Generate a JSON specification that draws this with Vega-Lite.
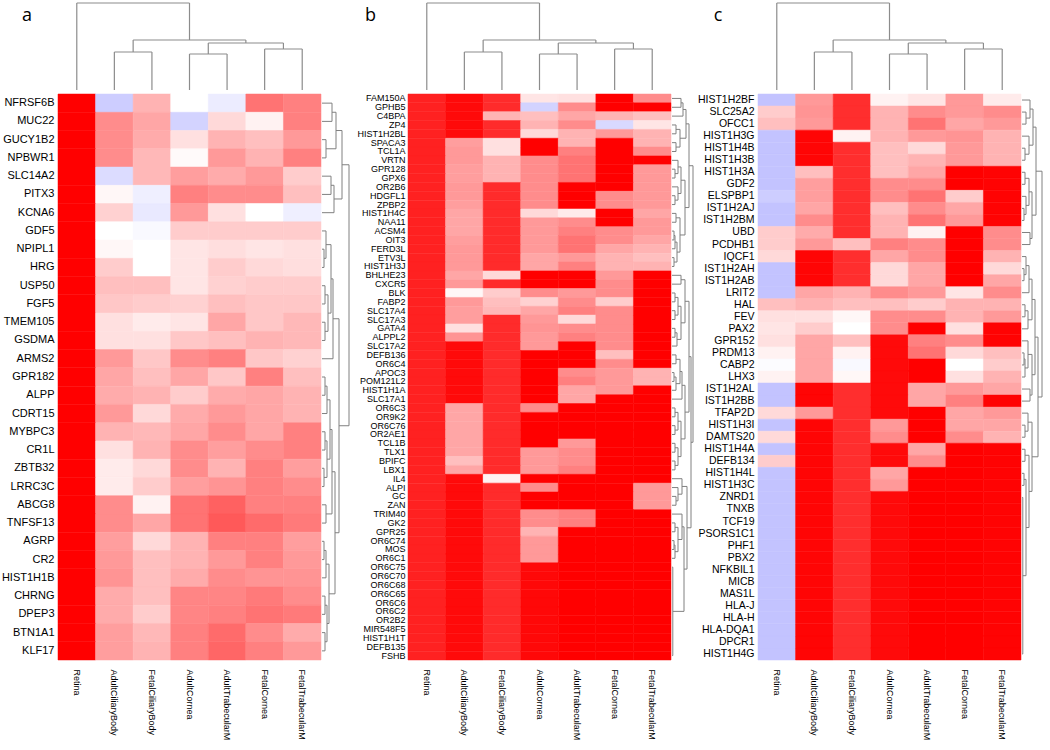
{
"$schema": "https://vega.github.io/schema/vega-lite/v6.json",
"padding": 0,
"background": "white",
"spacing": 0,
"config": {"view": {"stroke": null}, "axis": {"labelFont": "Liberation Sans", "labelColor": "#000000", "titleColor": "#000000"}},
"datasets": {
"dendro": [
{"x":0,"x2":0,"y":0,"y2":87},{"x":3,"x2":3,"y":50,"y2":87},{"x":0,"x2":3,"y":87,"y2":87},
{"x":1.5,"x2":1.5,"y":38,"y2":50},{"x":4.5,"x2":4.5,"y":47,"y2":50},{"x":1.5,"x2":4.5,"y":50,"y2":50},
{"x":1,"x2":1,"y":0,"y2":38},{"x":2,"x2":2,"y":0,"y2":38},{"x":1,"x2":2,"y":38,"y2":38},
{"x":3.5,"x2":3.5,"y":36,"y2":47},{"x":5.5,"x2":5.5,"y":41,"y2":47},{"x":3.5,"x2":5.5,"y":47,"y2":47},
{"x":3,"x2":3,"y":0,"y2":36},{"x":4,"x2":4,"y":0,"y2":36},{"x":3,"x2":4,"y":36,"y2":36},
{"x":5,"x2":5,"y":0,"y2":41},{"x":6,"x2":6,"y":0,"y2":41},{"x":5,"x2":6,"y":41,"y2":41}
],
"ra": [
{"p1":2.5,"h1":0,"p2":3.5,"h2":0,"H":4},{"p1":8.5,"h1":0,"p2":9.5,"h2":0,"H":2},{"p1":7.5,"h1":0,"p2":9.0,"h2":2,"H":4},
{"p1":10.5,"h1":0,"p2":11.5,"h2":0,"H":3},{"p1":12.5,"h1":0,"p2":13.5,"h2":0,"H":3},{"p1":11.0,"h1":3,"p2":13.0,"h2":3,"H":6},
{"p1":15.5,"h1":0,"p2":16.5,"h2":0,"H":3},{"p1":16.0,"h1":3,"p2":17.5,"h2":0,"H":5},{"p1":18.5,"h1":0,"p2":19.5,"h2":0,"H":3},
{"p1":20.5,"h1":0,"p2":21.5,"h2":0,"H":2},{"p1":19.0,"h1":3,"p2":21.0,"h2":2,"H":5},{"p1":22.5,"h1":0,"p2":23.5,"h2":0,"H":4},
{"p1":24.5,"h1":0,"p2":25.5,"h2":0,"H":2},{"p1":25.0,"h1":2,"p2":26.5,"h2":0,"H":4},{"p1":27.5,"h1":0,"p2":28.5,"h2":0,"H":3},
{"p1":29.5,"h1":0,"p2":30.5,"h2":0,"H":3},{"p1":28.0,"h1":3,"p2":30.0,"h2":3,"H":5},{"p1":25.75,"h1":4,"p2":29.0,"h2":5,"H":7},
{"p1":0.5,"h1":0,"p2":1.5,"h2":0,"H":10},{"p1":1.0,"h1":10,"p2":3.0,"h2":4,"H":14},{"p1":4.5,"h1":0,"p2":5.5,"h2":0,"H":9},
{"p1":5.0,"h1":9,"p2":6.5,"h2":0,"H":12},{"p1":8.25,"h1":4,"p2":12.0,"h2":6,"H":9},{"p1":10.125,"h1":9,"p2":14.5,"h2":0,"H":11},
{"p1":16.75,"h1":5,"p2":20.0,"h2":5,"H":8},{"p1":18.375,"h1":8,"p2":23.0,"h2":4,"H":10},{"p1":20.69,"h1":10,"p2":27.375,"h2":7,"H":13},
{"p1":12.31,"h1":11,"p2":24.03,"h2":13,"H":17},{"p1":2.0,"h1":14,"p2":5.75,"h2":12,"H":20},{"p1":3.875,"h1":20,"p2":18.17,"h2":17,"H":27}
],
"rb": [
{"p1":3.5,"h1":0,"p2":4.5,"h2":0,"H":4},{"p1":5.5,"h1":0,"p2":6.5,"h2":0,"H":4},{"p1":8.5,"h1":0,"p2":9.5,"h2":0,"H":3},
{"p1":7.5,"h1":0,"p2":9.0,"h2":3,"H":6},{"p1":11.5,"h1":0,"p2":12.5,"h2":0,"H":3},{"p1":10.5,"h1":0,"p2":12.0,"h2":3,"H":6},
{"p1":13.5,"h1":0,"p2":14.5,"h2":0,"H":4},{"p1":15.5,"h1":0,"p2":16.5,"h2":0,"H":2},{"p1":16.0,"h1":2,"p2":17.5,"h2":0,"H":3},
{"p1":18.5,"h1":0,"p2":19.5,"h2":0,"H":2},{"p1":16.75,"h1":3,"p2":19.0,"h2":2,"H":5},{"p1":22.5,"h1":0,"p2":23.5,"h2":0,"H":3},
{"p1":24.5,"h1":0,"p2":25.5,"h2":0,"H":3},{"p1":23.0,"h1":3,"p2":25.0,"h2":3,"H":6},{"p1":26.5,"h1":0,"p2":27.5,"h2":0,"H":3},
{"p1":27.0,"h1":3,"p2":28.5,"h2":0,"H":5},{"p1":29.5,"h1":0,"p2":30.5,"h2":0,"H":4},{"p1":31.5,"h1":0,"p2":32.5,"h2":0,"H":2},
{"p1":32.0,"h1":2,"p2":33.5,"h2":0,"H":4},{"p1":35.5,"h1":0,"p2":36.5,"h2":0,"H":3},{"p1":37.5,"h1":0,"p2":38.5,"h2":0,"H":3},
{"p1":36.0,"h1":3,"p2":38.0,"h2":3,"H":6},{"p1":39.5,"h1":0,"p2":40.5,"h2":0,"H":3},{"p1":41.5,"h1":0,"p2":42.5,"h2":0,"H":3},
{"p1":40.0,"h1":3,"p2":42.0,"h2":3,"H":6},{"p1":45.5,"h1":0,"p2":46.5,"h2":0,"H":4},{"p1":44.5,"h1":0,"p2":46.0,"h2":4,"H":6},
{"p1":48.5,"h1":0,"p2":49.5,"h2":0,"H":3},{"p1":50.5,"h1":0,"p2":51.5,"h2":0,"H":2},{"p1":51.0,"h1":2,"p2":52.5,"h2":0,"H":3},
{"p1":49.0,"h1":3,"p2":51.75,"h2":3,"H":6},{"p1":53.5,"h1":0,"p2":63.5,"h2":0,"H":0.8},{"p1":0.5,"h1":0,"p2":1.5,"h2":0,"H":9},
{"p1":1.0,"h1":9,"p2":2.5,"h2":0,"H":11},{"p1":4.0,"h1":4,"p2":6.0,"h2":4,"H":8},{"p1":8.25,"h1":6,"p2":11.25,"h2":6,"H":9},
{"p1":14.0,"h1":4,"p2":17.875,"h2":5,"H":8},{"p1":20.5,"h1":0,"p2":21.5,"h2":0,"H":9},{"p1":24.0,"h1":6,"p2":27.75,"h2":5,"H":9},
{"p1":30.0,"h1":4,"p2":32.75,"h2":4,"H":8},{"p1":31.375,"h1":8,"p2":34.5,"h2":0,"H":10},{"p1":37.0,"h1":6,"p2":41.0,"h2":6,"H":9},
{"p1":43.5,"h1":0,"p2":45.25,"h2":6,"H":10},{"p1":47.5,"h1":0,"p2":50.375,"h2":6,"H":10},{"p1":48.94,"h1":10,"p2":58.5,"h2":0.8,"H":12},
{"p1":1.75,"h1":11,"p2":5.0,"h2":8,"H":14},{"p1":9.75,"h1":9,"p2":15.94,"h2":8,"H":13},{"p1":21.0,"h1":9,"p2":25.875,"h2":9,"H":13},
{"p1":32.94,"h1":10,"p2":39.0,"h2":9,"H":13},{"p1":44.375,"h1":10,"p2":53.72,"h2":12,"H":15},{"p1":3.375,"h1":14,"p2":12.84,"h2":13,"H":17},
{"p1":23.44,"h1":13,"p2":35.97,"h2":13,"H":17},{"p1":29.7,"h1":17,"p2":49.05,"h2":15,"H":19},{"p1":8.11,"h1":17,"p2":39.38,"h2":19,"H":21}
],
"rc": [
{"p1":1.5,"h1":0,"p2":2.5,"h2":0,"H":4},{"p1":4.5,"h1":0,"p2":5.5,"h2":0,"H":3},{"p1":6.5,"h1":0,"p2":7.5,"h2":0,"H":3},
{"p1":9.5,"h1":0,"p2":10.5,"h2":0,"H":2},{"p1":8.5,"h1":0,"p2":10.0,"h2":2,"H":4},{"p1":14.5,"h1":0,"p2":15.5,"h2":0,"H":2},
{"p1":13.5,"h1":0,"p2":15.0,"h2":2,"H":4},{"p1":17.5,"h1":0,"p2":18.5,"h2":0,"H":3},{"p1":21.5,"h1":0,"p2":22.5,"h2":0,"H":2},
{"p1":22.0,"h1":2,"p2":23.5,"h2":0,"H":3},{"p1":27.5,"h1":0,"p2":28.5,"h2":0,"H":3},{"p1":29.5,"h1":0,"p2":30.5,"h2":0,"H":3},
{"p1":31.5,"h1":0,"p2":32.5,"h2":0,"H":2},{"p1":33.5,"h1":0,"p2":46.5,"h2":0,"H":0.8},{"p1":32.0,"h1":2,"p2":40.0,"h2":0.8,"H":4},
{"p1":0.5,"h1":0,"p2":2.0,"h2":4,"H":8},{"p1":3.5,"h1":0,"p2":5.0,"h2":3,"H":7},{"p1":7.0,"h1":3,"p2":9.25,"h2":4,"H":7},
{"p1":11.5,"h1":0,"p2":12.5,"h2":0,"H":8},{"p1":14.25,"h1":4,"p2":16.5,"h2":0,"H":7},{"p1":18.0,"h1":3,"p2":19.5,"h2":0,"H":6},
{"p1":20.5,"h1":0,"p2":22.75,"h2":3,"H":6},{"p1":24.5,"h1":0,"p2":25.5,"h2":0,"H":8},{"p1":26.5,"h1":0,"p2":28.0,"h2":3,"H":6},
{"p1":30.0,"h1":3,"p2":36.0,"h2":4,"H":7},{"p1":1.25,"h1":8,"p2":4.25,"h2":7,"H":11},{"p1":8.125,"h1":7,"p2":12.0,"h2":8,"H":10},
{"p1":15.375,"h1":7,"p2":18.75,"h2":6,"H":10},{"p1":21.625,"h1":6,"p2":25.0,"h2":8,"H":10},{"p1":27.25,"h1":6,"p2":33.0,"h2":7,"H":10},
{"p1":2.75,"h1":11,"p2":10.06,"h2":10,"H":14},{"p1":17.06,"h1":10,"p2":23.31,"h2":10,"H":13},{"p1":20.19,"h1":13,"p2":30.125,"h2":10,"H":16},
{"p1":6.41,"h1":14,"p2":25.16,"h2":16,"H":20}
],
"a": [
{"g":"NFRSF6B","Retina":1,"AdultCiliaryBody":-0.8,"FetalCiliaryBody":0.3,"AdultCornea":0.0,"AdultTrabecularM":-0.3,"FetalCornea":0.55,"FetalTrabecularM":0.5},
{"g":"MUC22","Retina":1,"AdultCiliaryBody":0.45,"FetalCiliaryBody":0.35,"AdultCornea":-0.7,"AdultTrabecularM":0.15,"FetalCornea":0.05,"FetalTrabecularM":0.5},
{"g":"GUCY1B2","Retina":1,"AdultCiliaryBody":0.45,"FetalCiliaryBody":0.33,"AdultCornea":0.12,"AdultTrabecularM":0.3,"FetalCornea":0.25,"FetalTrabecularM":0.4},
{"g":"NPBWR1","Retina":1,"AdultCiliaryBody":0.45,"FetalCiliaryBody":0.28,"AdultCornea":0.02,"AdultTrabecularM":0.4,"FetalCornea":0.3,"FetalTrabecularM":0.5},
{"g":"SLC14A2","Retina":1,"AdultCiliaryBody":-0.55,"FetalCiliaryBody":0.28,"AdultCornea":0.38,"AdultTrabecularM":0.33,"FetalCornea":0.4,"FetalTrabecularM":0.2},
{"g":"PITX3","Retina":1,"AdultCiliaryBody":0.03,"FetalCiliaryBody":-0.25,"AdultCornea":0.5,"AdultTrabecularM":0.45,"FetalCornea":0.45,"FetalTrabecularM":0.25},
{"g":"KCNA6","Retina":1,"AdultCiliaryBody":0.18,"FetalCiliaryBody":-0.35,"AdultCornea":0.4,"AdultTrabecularM":0.12,"FetalCornea":0.0,"FetalTrabecularM":-0.25},
{"g":"GDF5","Retina":1,"AdultCiliaryBody":0.0,"FetalCiliaryBody":-0.1,"AdultCornea":0.2,"AdultTrabecularM":0.2,"FetalCornea":0.2,"FetalTrabecularM":0.2},
{"g":"NPIPL1","Retina":1,"AdultCiliaryBody":0.03,"FetalCiliaryBody":0.0,"AdultCornea":0.1,"AdultTrabecularM":0.13,"FetalCornea":0.1,"FetalTrabecularM":0.12},
{"g":"HRG","Retina":1,"AdultCiliaryBody":0.2,"FetalCiliaryBody":0.0,"AdultCornea":0.1,"AdultTrabecularM":0.2,"FetalCornea":0.15,"FetalTrabecularM":0.13},
{"g":"USP50","Retina":1,"AdultCiliaryBody":0.25,"FetalCiliaryBody":0.25,"AdultCornea":0.1,"AdultTrabecularM":0.18,"FetalCornea":0.2,"FetalTrabecularM":0.2},
{"g":"FGF5","Retina":1,"AdultCiliaryBody":0.22,"FetalCiliaryBody":0.2,"AdultCornea":0.18,"AdultTrabecularM":0.25,"FetalCornea":0.22,"FetalTrabecularM":0.22},
{"g":"TMEM105","Retina":1,"AdultCiliaryBody":0.12,"FetalCiliaryBody":0.08,"AdultCornea":0.1,"AdultTrabecularM":0.35,"FetalCornea":0.22,"FetalTrabecularM":0.28},
{"g":"GSDMA","Retina":1,"AdultCiliaryBody":0.12,"FetalCiliaryBody":0.12,"AdultCornea":0.22,"AdultTrabecularM":0.25,"FetalCornea":0.3,"FetalTrabecularM":0.28},
{"g":"ARMS2","Retina":1,"AdultCiliaryBody":0.4,"FetalCiliaryBody":0.22,"AdultCornea":0.45,"AdultTrabecularM":0.5,"FetalCornea":0.22,"FetalTrabecularM":0.18},
{"g":"GPR182","Retina":1,"AdultCiliaryBody":0.35,"FetalCiliaryBody":0.25,"AdultCornea":0.35,"AdultTrabecularM":0.22,"FetalCornea":0.5,"FetalTrabecularM":0.25},
{"g":"ALPP","Retina":1,"AdultCiliaryBody":0.33,"FetalCiliaryBody":0.3,"AdultCornea":0.2,"AdultTrabecularM":0.33,"FetalCornea":0.35,"FetalTrabecularM":0.3},
{"g":"CDRT15","Retina":1,"AdultCiliaryBody":0.4,"FetalCiliaryBody":0.15,"AdultCornea":0.33,"AdultTrabecularM":0.4,"FetalCornea":0.35,"FetalTrabecularM":0.3},
{"g":"MYBPC3","Retina":1,"AdultCiliaryBody":0.3,"FetalCiliaryBody":0.28,"AdultCornea":0.35,"AdultTrabecularM":0.45,"FetalCornea":0.35,"FetalTrabecularM":0.5},
{"g":"CR1L","Retina":1,"AdultCiliaryBody":0.12,"FetalCiliaryBody":0.3,"AdultCornea":0.45,"AdultTrabecularM":0.38,"FetalCornea":0.45,"FetalTrabecularM":0.5},
{"g":"ZBTB32","Retina":1,"AdultCiliaryBody":0.08,"FetalCiliaryBody":0.15,"AdultCornea":0.45,"AdultTrabecularM":0.3,"FetalCornea":0.5,"FetalTrabecularM":0.38},
{"g":"LRRC3C","Retina":1,"AdultCiliaryBody":0.08,"FetalCiliaryBody":0.2,"AdultCornea":0.38,"AdultTrabecularM":0.42,"FetalCornea":0.5,"FetalTrabecularM":0.45},
{"g":"ABCG8","Retina":1,"AdultCiliaryBody":0.45,"FetalCiliaryBody":0.05,"AdultCornea":0.55,"AdultTrabecularM":0.62,"FetalCornea":0.5,"FetalTrabecularM":0.5},
{"g":"TNFSF13","Retina":1,"AdultCiliaryBody":0.45,"FetalCiliaryBody":0.35,"AdultCornea":0.55,"AdultTrabecularM":0.65,"FetalCornea":0.58,"FetalTrabecularM":0.52},
{"g":"AGRP","Retina":1,"AdultCiliaryBody":0.38,"FetalCiliaryBody":0.15,"AdultCornea":0.3,"AdultTrabecularM":0.5,"FetalCornea":0.5,"FetalTrabecularM":0.38},
{"g":"CR2","Retina":1,"AdultCiliaryBody":0.4,"FetalCiliaryBody":0.25,"AdultCornea":0.3,"AdultTrabecularM":0.4,"FetalCornea":0.5,"FetalTrabecularM":0.4},
{"g":"HIST1H1B","Retina":1,"AdultCiliaryBody":0.42,"FetalCiliaryBody":0.25,"AdultCornea":0.33,"AdultTrabecularM":0.45,"FetalCornea":0.42,"FetalTrabecularM":0.42},
{"g":"CHRNG","Retina":1,"AdultCiliaryBody":0.33,"FetalCiliaryBody":0.25,"AdultCornea":0.48,"AdultTrabecularM":0.48,"FetalCornea":0.52,"FetalTrabecularM":0.45},
{"g":"DPEP3","Retina":1,"AdultCiliaryBody":0.33,"FetalCiliaryBody":0.2,"AdultCornea":0.48,"AdultTrabecularM":0.5,"FetalCornea":0.55,"FetalTrabecularM":0.52},
{"g":"BTN1A1","Retina":1,"AdultCiliaryBody":0.38,"FetalCiliaryBody":0.28,"AdultCornea":0.5,"AdultTrabecularM":0.58,"FetalCornea":0.45,"FetalTrabecularM":0.33},
{"g":"KLF17","Retina":1,"AdultCiliaryBody":0.38,"FetalCiliaryBody":0.3,"AdultCornea":0.5,"AdultTrabecularM":0.6,"FetalCornea":0.5,"FetalTrabecularM":0.4}
],
"b": [
{"g":"FAM150A","Retina":0.87,"AdultCiliaryBody":0.96,"FetalCiliaryBody":0.83,"AdultCornea":0.1,"AdultTrabecularM":0.12,"FetalCornea":1,"FetalTrabecularM":0.45},
{"g":"GPHB5","Retina":0.87,"AdultCiliaryBody":0.96,"FetalCiliaryBody":0.83,"AdultCornea":-0.7,"AdultTrabecularM":0.45,"FetalCornea":1,"FetalTrabecularM":1},
{"g":"C4BPA","Retina":0.87,"AdultCiliaryBody":0.96,"FetalCiliaryBody":0.3,"AdultCornea":0.25,"AdultTrabecularM":0.35,"FetalCornea":0.3,"FetalTrabecularM":0.25},
{"g":"ZP4","Retina":0.87,"AdultCiliaryBody":0.96,"FetalCiliaryBody":0.83,"AdultCornea":0.3,"AdultTrabecularM":0.45,"FetalCornea":-0.6,"FetalTrabecularM":0.1},
{"g":"HIST1H2BL","Retina":0.87,"AdultCiliaryBody":0.96,"FetalCiliaryBody":0.83,"AdultCornea":0.15,"AdultTrabecularM":0.3,"FetalCornea":0.4,"FetalTrabecularM":0.3},
{"g":"SPACA3","Retina":0.87,"AdultCiliaryBody":0.38,"FetalCiliaryBody":0.12,"AdultCornea":1,"AdultTrabecularM":0.3,"FetalCornea":1,"FetalTrabecularM":0.3},
{"g":"TCL1A","Retina":0.87,"AdultCiliaryBody":0.4,"FetalCiliaryBody":0.12,"AdultCornea":1,"AdultTrabecularM":0.5,"FetalCornea":1,"FetalTrabecularM":0.45},
{"g":"VRTN","Retina":0.87,"AdultCiliaryBody":0.4,"FetalCiliaryBody":0.3,"AdultCornea":0.45,"AdultTrabecularM":0.55,"FetalCornea":1,"FetalTrabecularM":1},
{"g":"GPR128","Retina":0.87,"AdultCiliaryBody":0.38,"FetalCiliaryBody":0.3,"AdultCornea":0.45,"AdultTrabecularM":0.55,"FetalCornea":1,"FetalTrabecularM":0.4},
{"g":"GPX6","Retina":0.87,"AdultCiliaryBody":0.38,"FetalCiliaryBody":0.3,"AdultCornea":0.45,"AdultTrabecularM":0.55,"FetalCornea":1,"FetalTrabecularM":0.4},
{"g":"OR2B6","Retina":0.87,"AdultCiliaryBody":0.4,"FetalCiliaryBody":0.83,"AdultCornea":0.45,"AdultTrabecularM":1,"FetalCornea":1,"FetalTrabecularM":0.4},
{"g":"HDGFL1","Retina":0.87,"AdultCiliaryBody":0.4,"FetalCiliaryBody":0.83,"AdultCornea":0.45,"AdultTrabecularM":1,"FetalCornea":0.45,"FetalTrabecularM":0.4},
{"g":"ZPBP2","Retina":0.87,"AdultCiliaryBody":0.38,"FetalCiliaryBody":0.83,"AdultCornea":0.45,"AdultTrabecularM":1,"FetalCornea":0.45,"FetalTrabecularM":0.4},
{"g":"HIST1H4C","Retina":0.87,"AdultCiliaryBody":0.35,"FetalCiliaryBody":0.83,"AdultCornea":0.15,"AdultTrabecularM":0.08,"FetalCornea":1,"FetalTrabecularM":0.35},
{"g":"NAA11","Retina":0.87,"AdultCiliaryBody":0.35,"FetalCiliaryBody":0.83,"AdultCornea":0.4,"AdultTrabecularM":0.45,"FetalCornea":1,"FetalTrabecularM":0.4},
{"g":"ACSM4","Retina":0.87,"AdultCiliaryBody":0.35,"FetalCiliaryBody":0.83,"AdultCornea":0.4,"AdultTrabecularM":0.5,"FetalCornea":0.45,"FetalTrabecularM":0.4},
{"g":"OIT3","Retina":0.87,"AdultCiliaryBody":0.38,"FetalCiliaryBody":0.83,"AdultCornea":0.4,"AdultTrabecularM":0.55,"FetalCornea":0.45,"FetalTrabecularM":0.35},
{"g":"FERD3L","Retina":0.87,"AdultCiliaryBody":0.4,"FetalCiliaryBody":0.83,"AdultCornea":0.4,"AdultTrabecularM":0.55,"FetalCornea":0.35,"FetalTrabecularM":0.3},
{"g":"ETV3L","Retina":0.87,"AdultCiliaryBody":0.4,"FetalCiliaryBody":0.83,"AdultCornea":0.35,"AdultTrabecularM":0.4,"FetalCornea":0.3,"FetalTrabecularM":0.25},
{"g":"HIST1H3J","Retina":0.87,"AdultCiliaryBody":0.4,"FetalCiliaryBody":0.83,"AdultCornea":0.35,"AdultTrabecularM":0.5,"FetalCornea":0.3,"FetalTrabecularM":0.3},
{"g":"BHLHE23","Retina":0.87,"AdultCiliaryBody":0.35,"FetalCiliaryBody":0.15,"AdultCornea":1,"AdultTrabecularM":1,"FetalCornea":0.4,"FetalTrabecularM":1},
{"g":"CXCR5","Retina":0.87,"AdultCiliaryBody":0.4,"FetalCiliaryBody":0.83,"AdultCornea":1,"AdultTrabecularM":1,"FetalCornea":0.45,"FetalTrabecularM":1},
{"g":"BLK","Retina":0.87,"AdultCiliaryBody":0.03,"FetalCiliaryBody":0.2,"AdultCornea":0.45,"AdultTrabecularM":0.4,"FetalCornea":0.45,"FetalTrabecularM":1},
{"g":"FABP2","Retina":0.87,"AdultCiliaryBody":0.4,"FetalCiliaryBody":0.25,"AdultCornea":0.18,"AdultTrabecularM":0.45,"FetalCornea":0.2,"FetalTrabecularM":1},
{"g":"SLC17A4","Retina":0.87,"AdultCiliaryBody":0.38,"FetalCiliaryBody":0.28,"AdultCornea":0.35,"AdultTrabecularM":0.5,"FetalCornea":0.45,"FetalTrabecularM":1},
{"g":"SLC17A3","Retina":0.87,"AdultCiliaryBody":0.38,"FetalCiliaryBody":0.83,"AdultCornea":0.4,"AdultTrabecularM":0.15,"FetalCornea":0.45,"FetalTrabecularM":1},
{"g":"GATA4","Retina":0.87,"AdultCiliaryBody":0.12,"FetalCiliaryBody":0.83,"AdultCornea":0.42,"AdultTrabecularM":0.45,"FetalCornea":0.45,"FetalTrabecularM":1},
{"g":"ALPPL2","Retina":0.87,"AdultCiliaryBody":0.42,"FetalCiliaryBody":0.83,"AdultCornea":0.4,"AdultTrabecularM":0.5,"FetalCornea":0.45,"FetalTrabecularM":1},
{"g":"SLC17A2","Retina":0.87,"AdultCiliaryBody":0.96,"FetalCiliaryBody":0.83,"AdultCornea":0.4,"AdultTrabecularM":1,"FetalCornea":0.45,"FetalTrabecularM":1},
{"g":"DEFB136","Retina":0.87,"AdultCiliaryBody":0.96,"FetalCiliaryBody":0.83,"AdultCornea":1,"AdultTrabecularM":1,"FetalCornea":0.25,"FetalTrabecularM":1},
{"g":"OR6C4","Retina":0.87,"AdultCiliaryBody":0.96,"FetalCiliaryBody":0.83,"AdultCornea":1,"AdultTrabecularM":1,"FetalCornea":0.45,"FetalTrabecularM":1},
{"g":"APOC3","Retina":0.87,"AdultCiliaryBody":0.96,"FetalCiliaryBody":0.83,"AdultCornea":1,"AdultTrabecularM":0.45,"FetalCornea":0.4,"FetalTrabecularM":0.3},
{"g":"POM121L2","Retina":0.87,"AdultCiliaryBody":0.96,"FetalCiliaryBody":0.83,"AdultCornea":1,"AdultTrabecularM":0.5,"FetalCornea":0.4,"FetalTrabecularM":0.3},
{"g":"HIST1H1A","Retina":0.87,"AdultCiliaryBody":0.96,"FetalCiliaryBody":0.83,"AdultCornea":1,"AdultTrabecularM":0.35,"FetalCornea":0.4,"FetalTrabecularM":1},
{"g":"SLC17A1","Retina":0.87,"AdultCiliaryBody":0.96,"FetalCiliaryBody":0.83,"AdultCornea":1,"AdultTrabecularM":0.35,"FetalCornea":1,"FetalTrabecularM":1},
{"g":"OR6C3","Retina":0.87,"AdultCiliaryBody":0.35,"FetalCiliaryBody":0.83,"AdultCornea":0.45,"AdultTrabecularM":1,"FetalCornea":1,"FetalTrabecularM":1},
{"g":"OR9K2","Retina":0.87,"AdultCiliaryBody":0.35,"FetalCiliaryBody":0.83,"AdultCornea":1,"AdultTrabecularM":1,"FetalCornea":1,"FetalTrabecularM":1},
{"g":"OR6C76","Retina":0.87,"AdultCiliaryBody":0.35,"FetalCiliaryBody":0.83,"AdultCornea":1,"AdultTrabecularM":1,"FetalCornea":1,"FetalTrabecularM":1},
{"g":"OR2AE1","Retina":0.87,"AdultCiliaryBody":0.35,"FetalCiliaryBody":0.83,"AdultCornea":1,"AdultTrabecularM":1,"FetalCornea":1,"FetalTrabecularM":1},
{"g":"TCL1B","Retina":0.87,"AdultCiliaryBody":0.35,"FetalCiliaryBody":0.83,"AdultCornea":1,"AdultTrabecularM":0.4,"FetalCornea":1,"FetalTrabecularM":1},
{"g":"TLX1","Retina":0.87,"AdultCiliaryBody":0.35,"FetalCiliaryBody":0.83,"AdultCornea":0.4,"AdultTrabecularM":0.45,"FetalCornea":1,"FetalTrabecularM":1},
{"g":"BPIFC","Retina":0.87,"AdultCiliaryBody":0.25,"FetalCiliaryBody":0.83,"AdultCornea":0.4,"AdultTrabecularM":0.45,"FetalCornea":1,"FetalTrabecularM":1},
{"g":"LBX1","Retina":0.87,"AdultCiliaryBody":0.35,"FetalCiliaryBody":0.83,"AdultCornea":0.4,"AdultTrabecularM":0.5,"FetalCornea":1,"FetalTrabecularM":1},
{"g":"IL4","Retina":0.87,"AdultCiliaryBody":0.96,"FetalCiliaryBody":0.05,"AdultCornea":1,"AdultTrabecularM":1,"FetalCornea":1,"FetalTrabecularM":1},
{"g":"ALPI","Retina":0.87,"AdultCiliaryBody":0.96,"FetalCiliaryBody":0.83,"AdultCornea":0.45,"AdultTrabecularM":1,"FetalCornea":1,"FetalTrabecularM":0.4},
{"g":"GC","Retina":0.87,"AdultCiliaryBody":0.96,"FetalCiliaryBody":0.83,"AdultCornea":1,"AdultTrabecularM":1,"FetalCornea":1,"FetalTrabecularM":0.4},
{"g":"ZAN","Retina":0.87,"AdultCiliaryBody":0.96,"FetalCiliaryBody":0.83,"AdultCornea":1,"AdultTrabecularM":1,"FetalCornea":1,"FetalTrabecularM":0.4},
{"g":"TRIM40","Retina":0.87,"AdultCiliaryBody":0.96,"FetalCiliaryBody":0.83,"AdultCornea":0.45,"AdultTrabecularM":0.5,"FetalCornea":1,"FetalTrabecularM":1},
{"g":"GK2","Retina":0.87,"AdultCiliaryBody":0.96,"FetalCiliaryBody":0.83,"AdultCornea":0.45,"AdultTrabecularM":0.5,"FetalCornea":1,"FetalTrabecularM":1},
{"g":"GPR25","Retina":0.87,"AdultCiliaryBody":0.96,"FetalCiliaryBody":0.83,"AdultCornea":0.3,"AdultTrabecularM":1,"FetalCornea":1,"FetalTrabecularM":1},
{"g":"OR6C74","Retina":0.87,"AdultCiliaryBody":0.96,"FetalCiliaryBody":0.83,"AdultCornea":0.4,"AdultTrabecularM":1,"FetalCornea":1,"FetalTrabecularM":1},
{"g":"MOS","Retina":0.87,"AdultCiliaryBody":0.96,"FetalCiliaryBody":0.83,"AdultCornea":0.4,"AdultTrabecularM":1,"FetalCornea":1,"FetalTrabecularM":1},
{"g":"OR6C1","Retina":0.87,"AdultCiliaryBody":0.96,"FetalCiliaryBody":0.83,"AdultCornea":0.4,"AdultTrabecularM":1,"FetalCornea":1,"FetalTrabecularM":1},
{"g":"OR6C75","Retina":0.87,"AdultCiliaryBody":0.96,"FetalCiliaryBody":0.83,"AdultCornea":0.97,"AdultTrabecularM":1,"FetalCornea":1,"FetalTrabecularM":1},
{"g":"OR6C70","Retina":0.87,"AdultCiliaryBody":0.96,"FetalCiliaryBody":0.83,"AdultCornea":0.97,"AdultTrabecularM":1,"FetalCornea":1,"FetalTrabecularM":1},
{"g":"OR6C68","Retina":0.87,"AdultCiliaryBody":0.96,"FetalCiliaryBody":0.83,"AdultCornea":0.97,"AdultTrabecularM":1,"FetalCornea":1,"FetalTrabecularM":1},
{"g":"OR6C65","Retina":0.87,"AdultCiliaryBody":0.96,"FetalCiliaryBody":0.83,"AdultCornea":0.97,"AdultTrabecularM":1,"FetalCornea":1,"FetalTrabecularM":1},
{"g":"OR6C6","Retina":0.87,"AdultCiliaryBody":0.96,"FetalCiliaryBody":0.83,"AdultCornea":0.97,"AdultTrabecularM":1,"FetalCornea":1,"FetalTrabecularM":1},
{"g":"OR6C2","Retina":0.87,"AdultCiliaryBody":0.96,"FetalCiliaryBody":0.83,"AdultCornea":0.97,"AdultTrabecularM":1,"FetalCornea":1,"FetalTrabecularM":1},
{"g":"OR2B2","Retina":0.87,"AdultCiliaryBody":0.96,"FetalCiliaryBody":0.83,"AdultCornea":0.97,"AdultTrabecularM":1,"FetalCornea":1,"FetalTrabecularM":1},
{"g":"MIR548F5","Retina":0.87,"AdultCiliaryBody":0.96,"FetalCiliaryBody":0.83,"AdultCornea":0.97,"AdultTrabecularM":1,"FetalCornea":1,"FetalTrabecularM":1},
{"g":"HIST1H1T","Retina":0.87,"AdultCiliaryBody":0.96,"FetalCiliaryBody":0.83,"AdultCornea":0.97,"AdultTrabecularM":1,"FetalCornea":1,"FetalTrabecularM":1},
{"g":"DEFB135","Retina":0.87,"AdultCiliaryBody":0.96,"FetalCiliaryBody":0.83,"AdultCornea":0.97,"AdultTrabecularM":1,"FetalCornea":1,"FetalTrabecularM":1},
{"g":"FSHB","Retina":0.87,"AdultCiliaryBody":0.96,"FetalCiliaryBody":0.83,"AdultCornea":0.97,"AdultTrabecularM":1,"FetalCornea":1,"FetalTrabecularM":1}
],
"c": [
{"g":"HIST1H2BF","Retina":-0.95,"AdultCiliaryBody":0.4,"FetalCiliaryBody":0.82,"AdultCornea":0.05,"AdultTrabecularM":0.1,"FetalCornea":0.4,"FetalTrabecularM":0.08},
{"g":"SLC25A2","Retina":0.2,"AdultCiliaryBody":0.42,"FetalCiliaryBody":0.82,"AdultCornea":0.3,"AdultTrabecularM":0.45,"FetalCornea":0.4,"FetalTrabecularM":0.45},
{"g":"OFCC1","Retina":0.25,"AdultCiliaryBody":0.4,"FetalCiliaryBody":0.82,"AdultCornea":0.3,"AdultTrabecularM":0.55,"FetalCornea":0.35,"FetalTrabecularM":0.4},
{"g":"HIST1H3G","Retina":-0.95,"AdultCiliaryBody":0.98,"FetalCiliaryBody":0.05,"AdultCornea":0.3,"AdultTrabecularM":0.4,"FetalCornea":0.42,"FetalTrabecularM":0.3},
{"g":"HIST1H4B","Retina":-0.95,"AdultCiliaryBody":0.98,"FetalCiliaryBody":0.82,"AdultCornea":0.25,"AdultTrabecularM":0.15,"FetalCornea":0.4,"FetalTrabecularM":0.3},
{"g":"HIST1H3B","Retina":-0.95,"AdultCiliaryBody":0.98,"FetalCiliaryBody":0.82,"AdultCornea":0.25,"AdultTrabecularM":0.3,"FetalCornea":0.4,"FetalTrabecularM":0.3},
{"g":"HIST1H3A","Retina":-0.95,"AdultCiliaryBody":0.25,"FetalCiliaryBody":0.82,"AdultCornea":0.25,"AdultTrabecularM":0.35,"FetalCornea":1,"FetalTrabecularM":0.99},
{"g":"GDF2","Retina":-0.95,"AdultCiliaryBody":0.38,"FetalCiliaryBody":0.82,"AdultCornea":0.45,"AdultTrabecularM":0.45,"FetalCornea":1,"FetalTrabecularM":0.99},
{"g":"ELSPBP1","Retina":-0.8,"AdultCiliaryBody":0.38,"FetalCiliaryBody":0.82,"AdultCornea":0.45,"AdultTrabecularM":0.55,"FetalCornea":0.2,"FetalTrabecularM":0.99},
{"g":"IST1H2AJ","Retina":-0.95,"AdultCiliaryBody":0.35,"FetalCiliaryBody":0.82,"AdultCornea":0.25,"AdultTrabecularM":0.45,"FetalCornea":0.35,"FetalTrabecularM":0.99},
{"g":"IST1H2BM","Retina":-0.95,"AdultCiliaryBody":0.45,"FetalCiliaryBody":0.82,"AdultCornea":0.3,"AdultTrabecularM":0.55,"FetalCornea":0.4,"FetalTrabecularM":0.99},
{"g":"UBD","Retina":0.2,"AdultCiliaryBody":0.33,"FetalCiliaryBody":0.82,"AdultCornea":0.3,"AdultTrabecularM":0.05,"FetalCornea":1,"FetalTrabecularM":0.45},
{"g":"PCDHB1","Retina":0.2,"AdultCiliaryBody":0.4,"FetalCiliaryBody":0.25,"AdultCornea":0.5,"AdultTrabecularM":0.45,"FetalCornea":1,"FetalTrabecularM":0.45},
{"g":"IQCF1","Retina":0.15,"AdultCiliaryBody":0.98,"FetalCiliaryBody":0.82,"AdultCornea":0.35,"AdultTrabecularM":0.45,"FetalCornea":1,"FetalTrabecularM":0.3},
{"g":"IST1H2AH","Retina":-0.95,"AdultCiliaryBody":0.98,"FetalCiliaryBody":0.82,"AdultCornea":0.15,"AdultTrabecularM":0.35,"FetalCornea":1,"FetalTrabecularM":0.15},
{"g":"IST1H2AB","Retina":-0.95,"AdultCiliaryBody":0.98,"FetalCiliaryBody":0.82,"AdultCornea":0.15,"AdultTrabecularM":0.35,"FetalCornea":1,"FetalTrabecularM":0.35},
{"g":"LRIT2","Retina":-0.95,"AdultCiliaryBody":0.35,"FetalCiliaryBody":0.3,"AdultCornea":0.45,"AdultTrabecularM":0.4,"FetalCornea":0.1,"FetalTrabecularM":0.45},
{"g":"HAL","Retina":0.25,"AdultCiliaryBody":0.3,"FetalCiliaryBody":0.25,"AdultCornea":0.25,"AdultTrabecularM":0.2,"FetalCornea":0.3,"FetalTrabecularM":0.3},
{"g":"FEV","Retina":0.12,"AdultCiliaryBody":0.12,"FetalCiliaryBody":0.03,"AdultCornea":0.45,"AdultTrabecularM":0.45,"FetalCornea":0.3,"FetalTrabecularM":0.4},
{"g":"PAX2","Retina":0.1,"AdultCiliaryBody":0.2,"FetalCiliaryBody":0.0,"AdultCornea":0.45,"AdultTrabecularM":1,"FetalCornea":0.12,"FetalTrabecularM":0.99},
{"g":"GPR152","Retina":0.12,"AdultCiliaryBody":0.35,"FetalCiliaryBody":0.25,"AdultCornea":0.96,"AdultTrabecularM":0.5,"FetalCornea":0.45,"FetalTrabecularM":0.99},
{"g":"PRDM13","Retina":0.05,"AdultCiliaryBody":0.35,"FetalCiliaryBody":0.05,"AdultCornea":0.96,"AdultTrabecularM":0.55,"FetalCornea":0.15,"FetalTrabecularM":0.25},
{"g":"CABP2","Retina":-0.05,"AdultCiliaryBody":0.35,"FetalCiliaryBody":-0.1,"AdultCornea":0.96,"AdultTrabecularM":1,"FetalCornea":0.0,"FetalTrabecularM":0.2},
{"g":"LHX3","Retina":0.05,"AdultCiliaryBody":0.35,"FetalCiliaryBody":0.03,"AdultCornea":0.96,"AdultTrabecularM":1,"FetalCornea":0.12,"FetalTrabecularM":0.3},
{"g":"IST1H2AL","Retina":-0.95,"AdultCiliaryBody":0.98,"FetalCiliaryBody":0.82,"AdultCornea":0.96,"AdultTrabecularM":0.35,"FetalCornea":0.4,"FetalTrabecularM":0.35},
{"g":"IST1H2BB","Retina":-0.95,"AdultCiliaryBody":0.98,"FetalCiliaryBody":0.82,"AdultCornea":0.96,"AdultTrabecularM":0.35,"FetalCornea":0.5,"FetalTrabecularM":0.99},
{"g":"TFAP2D","Retina":0.15,"AdultCiliaryBody":0.4,"FetalCiliaryBody":0.82,"AdultCornea":0.96,"AdultTrabecularM":1,"FetalCornea":0.35,"FetalTrabecularM":0.4},
{"g":"HIST1H3I","Retina":-0.95,"AdultCiliaryBody":0.98,"FetalCiliaryBody":0.82,"AdultCornea":0.4,"AdultTrabecularM":1,"FetalCornea":0.35,"FetalTrabecularM":0.35},
{"g":"DAMTS20","Retina":0.15,"AdultCiliaryBody":0.98,"FetalCiliaryBody":0.82,"AdultCornea":0.45,"AdultTrabecularM":1,"FetalCornea":0.45,"FetalTrabecularM":0.3},
{"g":"HIST1H4A","Retina":-0.95,"AdultCiliaryBody":0.98,"FetalCiliaryBody":0.82,"AdultCornea":0.96,"AdultTrabecularM":0.35,"FetalCornea":1,"FetalTrabecularM":0.99},
{"g":"DEFB134","Retina":0.2,"AdultCiliaryBody":0.98,"FetalCiliaryBody":0.82,"AdultCornea":0.96,"AdultTrabecularM":0.45,"FetalCornea":1,"FetalTrabecularM":0.99},
{"g":"HIST1H4L","Retina":-0.95,"AdultCiliaryBody":0.98,"FetalCiliaryBody":0.82,"AdultCornea":0.35,"AdultTrabecularM":1,"FetalCornea":1,"FetalTrabecularM":0.99},
{"g":"HIST1H3C","Retina":-0.95,"AdultCiliaryBody":0.98,"FetalCiliaryBody":0.82,"AdultCornea":0.4,"AdultTrabecularM":1,"FetalCornea":1,"FetalTrabecularM":0.99},
{"g":"ZNRD1","Retina":-0.95,"AdultCiliaryBody":0.98,"FetalCiliaryBody":0.82,"AdultCornea":0.96,"AdultTrabecularM":1,"FetalCornea":1,"FetalTrabecularM":0.99},
{"g":"TNXB","Retina":-0.95,"AdultCiliaryBody":0.98,"FetalCiliaryBody":0.82,"AdultCornea":0.96,"AdultTrabecularM":1,"FetalCornea":1,"FetalTrabecularM":0.99},
{"g":"TCF19","Retina":-0.95,"AdultCiliaryBody":0.98,"FetalCiliaryBody":0.82,"AdultCornea":0.96,"AdultTrabecularM":1,"FetalCornea":1,"FetalTrabecularM":0.99},
{"g":"PSORS1C1","Retina":-0.95,"AdultCiliaryBody":0.98,"FetalCiliaryBody":0.82,"AdultCornea":0.96,"AdultTrabecularM":1,"FetalCornea":1,"FetalTrabecularM":0.99},
{"g":"PHF1","Retina":-0.95,"AdultCiliaryBody":0.98,"FetalCiliaryBody":0.82,"AdultCornea":0.96,"AdultTrabecularM":1,"FetalCornea":1,"FetalTrabecularM":0.99},
{"g":"PBX2","Retina":-0.95,"AdultCiliaryBody":0.98,"FetalCiliaryBody":0.82,"AdultCornea":0.96,"AdultTrabecularM":1,"FetalCornea":1,"FetalTrabecularM":0.99},
{"g":"NFKBIL1","Retina":-0.95,"AdultCiliaryBody":0.98,"FetalCiliaryBody":0.82,"AdultCornea":0.96,"AdultTrabecularM":1,"FetalCornea":1,"FetalTrabecularM":0.99},
{"g":"MICB","Retina":-0.95,"AdultCiliaryBody":0.98,"FetalCiliaryBody":0.82,"AdultCornea":0.96,"AdultTrabecularM":1,"FetalCornea":1,"FetalTrabecularM":0.99},
{"g":"MAS1L","Retina":-0.95,"AdultCiliaryBody":0.98,"FetalCiliaryBody":0.82,"AdultCornea":0.96,"AdultTrabecularM":1,"FetalCornea":1,"FetalTrabecularM":0.99},
{"g":"HLA-J","Retina":-0.95,"AdultCiliaryBody":0.98,"FetalCiliaryBody":0.82,"AdultCornea":0.96,"AdultTrabecularM":1,"FetalCornea":1,"FetalTrabecularM":0.99},
{"g":"HLA-H","Retina":-0.95,"AdultCiliaryBody":0.98,"FetalCiliaryBody":0.82,"AdultCornea":0.96,"AdultTrabecularM":1,"FetalCornea":1,"FetalTrabecularM":0.99},
{"g":"HLA-DQA1","Retina":-0.95,"AdultCiliaryBody":0.98,"FetalCiliaryBody":0.82,"AdultCornea":0.96,"AdultTrabecularM":1,"FetalCornea":1,"FetalTrabecularM":0.99},
{"g":"DPCR1","Retina":-0.95,"AdultCiliaryBody":0.98,"FetalCiliaryBody":0.82,"AdultCornea":0.96,"AdultTrabecularM":1,"FetalCornea":1,"FetalTrabecularM":0.99},
{"g":"HIST1H4G","Retina":-0.95,"AdultCiliaryBody":0.98,"FetalCiliaryBody":0.82,"AdultCornea":0.96,"AdultTrabecularM":1,"FetalCornea":1,"FetalTrabecularM":0.99}
]
},
"hconcat": [
{"spacing": 0, "vconcat": [
 {"width": 263, "height": 93, "data": {"name": "dendro"},
  "mark": {"type": "rule", "color": "#8c8c8c", "strokeWidth": 1.2},
  "encoding": {
   "x": {"field": "x", "type": "quantitative", "scale": {"domain": [-0.5, 6.5], "nice": false, "zero": false}, "axis": null},
   "x2": {"field": "x2"},
   "y": {"field": "y", "type": "quantitative", "scale": {"domain": [-3, 90], "nice": false, "zero": false},
         "axis": {"title": "a", "titleAngle": 0, "titleX": -31.5, "titleY": 20, "titleFont": "Open Sans", "titleFontSize": 18, "titleFontWeight": "normal", "titleAlign": "center", "titleBaseline": "alphabetic", "labels": false, "ticks": false, "domain": false, "grid": false, "minExtent": 58, "maxExtent": 58}},
   "y2": {"field": "y2"}
  }},
 {"width": 263, "height": 566,
  "resolve": {"scale": {"x": "independent", "y": "independent"}},
  "layer": [
  {"data": {"name": "a"},
   "transform": [{"fold": ["Retina","AdultCiliaryBody","FetalCiliaryBody","AdultCornea","AdultTrabecularM","FetalCornea","FetalTrabecularM"], "as": ["t", "v"]}],
   "mark": {"type": "rect", "strokeWidth": 0.5},
   "encoding": {
    "x": {"field": "t", "type": "nominal", "sort": ["Retina","AdultCiliaryBody","FetalCiliaryBody","AdultCornea","AdultTrabecularM","FetalCornea","FetalTrabecularM"], "scale": {"paddingInner": 0, "paddingOuter": 0},
          "axis": {"title": null, "labelAngle": 90, "labelAlign": "left", "labelBaseline": "middle", "labelPadding": 9, "labelFontSize": 9, "ticks": false, "domain": false}},
    "y": {"field": "g", "type": "nominal", "sort": null, "scale": {"paddingInner": 0, "paddingOuter": 0},
          "axis": {"title": null, "labelFontSize": 11, "labelPadding": 4, "ticks": false, "domain": false, "minExtent": 58, "maxExtent": 58}},
    "color": {"field": "v", "type": "quantitative", "scale": {"domain": [-1, 0, 1], "range": ["#c0c0ff", "#ffffff", "#ff0000"], "interpolate": "rgb"}, "legend": null},
    "stroke": {"field": "v", "type": "quantitative", "scale": {"domain": [-1, 0, 1], "range": ["#c0c0ff", "#ffffff", "#ff0000"], "interpolate": "rgb"}, "legend": null}
   }},
  {"data": {"name": "ra"},
   "layer": [
    {"mark": {"type": "rule", "color": "#808080", "strokeWidth": 1},
     "encoding": {"x": {"field": "h1", "type": "quantitative", "scale": {"domain": [0, 28], "range": [264, 292], "nice": false, "zero": false}, "axis": null}, "x2": {"field": "H"},
                  "y": {"field": "p1", "type": "quantitative", "scale": {"domain": [0, 31], "reverse": true, "nice": false, "zero": false}, "axis": null}, "y2": {"field": "p1"}}},
    {"mark": {"type": "rule", "color": "#808080", "strokeWidth": 1},
     "encoding": {"x": {"field": "h2", "type": "quantitative", "scale": {"domain": [0, 28], "range": [264, 292], "nice": false, "zero": false}, "axis": null}, "x2": {"field": "H"},
                  "y": {"field": "p2", "type": "quantitative", "scale": {"domain": [0, 31], "reverse": true, "nice": false, "zero": false}, "axis": null}, "y2": {"field": "p2"}}},
    {"mark": {"type": "rule", "color": "#808080", "strokeWidth": 1},
     "encoding": {"x": {"field": "H", "type": "quantitative", "scale": {"domain": [0, 28], "range": [264, 292], "nice": false, "zero": false}, "axis": null}, "x2": {"field": "H"},
                  "y": {"field": "p1", "type": "quantitative", "scale": {"domain": [0, 31], "reverse": true, "nice": false, "zero": false}, "axis": null}, "y2": {"field": "p2"}}}
   ]}
  ]}
]},
{"spacing": 0, "vconcat": [
 {"width": 263, "height": 93, "data": {"name": "dendro"},
  "mark": {"type": "rule", "color": "#8c8c8c", "strokeWidth": 1.2},
  "encoding": {
   "x": {"field": "x", "type": "quantitative", "scale": {"domain": [-0.5, 6.5], "nice": false, "zero": false}, "axis": null},
   "x2": {"field": "x2"},
   "y": {"field": "y", "type": "quantitative", "scale": {"domain": [-3, 90], "nice": false, "zero": false},
         "axis": {"title": "b", "titleAngle": 0, "titleX": -38, "titleY": 20, "titleFont": "Open Sans", "titleFontSize": 18, "titleFontWeight": "normal", "titleAlign": "center", "titleBaseline": "alphabetic", "labels": false, "ticks": false, "domain": false, "grid": false, "minExtent": 57.5, "maxExtent": 57.5}},
   "y2": {"field": "y2"}
  }},
 {"width": 263, "height": 566,
  "resolve": {"scale": {"x": "independent", "y": "independent"}},
  "layer": [
  {"data": {"name": "b"},
   "transform": [{"fold": ["Retina","AdultCiliaryBody","FetalCiliaryBody","AdultCornea","AdultTrabecularM","FetalCornea","FetalTrabecularM"], "as": ["t", "v"]}],
   "mark": {"type": "rect", "strokeWidth": 0.5},
   "encoding": {
    "x": {"field": "t", "type": "nominal", "sort": ["Retina","AdultCiliaryBody","FetalCiliaryBody","AdultCornea","AdultTrabecularM","FetalCornea","FetalTrabecularM"], "scale": {"paddingInner": 0, "paddingOuter": 0},
          "axis": {"title": null, "labelAngle": 90, "labelAlign": "left", "labelBaseline": "middle", "labelPadding": 9, "labelFontSize": 9, "ticks": false, "domain": false}},
    "y": {"field": "g", "type": "nominal", "sort": null, "scale": {"paddingInner": 0, "paddingOuter": 0},
          "axis": {"title": null, "labelFontSize": 9, "labelPadding": 3, "ticks": false, "domain": false, "minExtent": 57.5, "maxExtent": 57.5}},
    "color": {"field": "v", "type": "quantitative", "scale": {"domain": [-1, 0, 1], "range": ["#c0c0ff", "#ffffff", "#ff0000"], "interpolate": "rgb"}, "legend": null},
    "stroke": {"field": "v", "type": "quantitative", "scale": {"domain": [-1, 0, 1], "range": ["#c0c0ff", "#ffffff", "#ff0000"], "interpolate": "rgb"}, "legend": null}
   }},
  {"data": {"name": "rb"},
   "layer": [
    {"mark": {"type": "rule", "color": "#808080", "strokeWidth": 1},
     "encoding": {"x": {"field": "h1", "type": "quantitative", "scale": {"domain": [0, 22], "range": [264, 286], "nice": false, "zero": false}, "axis": null}, "x2": {"field": "H"},
                  "y": {"field": "p1", "type": "quantitative", "scale": {"domain": [0, 64], "reverse": true, "nice": false, "zero": false}, "axis": null}, "y2": {"field": "p1"}}},
    {"mark": {"type": "rule", "color": "#808080", "strokeWidth": 1},
     "encoding": {"x": {"field": "h2", "type": "quantitative", "scale": {"domain": [0, 22], "range": [264, 286], "nice": false, "zero": false}, "axis": null}, "x2": {"field": "H"},
                  "y": {"field": "p2", "type": "quantitative", "scale": {"domain": [0, 64], "reverse": true, "nice": false, "zero": false}, "axis": null}, "y2": {"field": "p2"}}},
    {"mark": {"type": "rule", "color": "#808080", "strokeWidth": 1},
     "encoding": {"x": {"field": "H", "type": "quantitative", "scale": {"domain": [0, 22], "range": [264, 286], "nice": false, "zero": false}, "axis": null}, "x2": {"field": "H"},
                  "y": {"field": "p1", "type": "quantitative", "scale": {"domain": [0, 64], "reverse": true, "nice": false, "zero": false}, "axis": null}, "y2": {"field": "p2"}}}
   ]}
  ]}
]},
{"spacing": 0, "vconcat": [
 {"width": 263, "height": 93, "data": {"name": "dendro"},
  "mark": {"type": "rule", "color": "#8c8c8c", "strokeWidth": 1.2},
  "encoding": {
   "x": {"field": "x", "type": "quantitative", "scale": {"domain": [-0.5, 6.5], "nice": false, "zero": false}, "axis": null},
   "x2": {"field": "x2"},
   "y": {"field": "y", "type": "quantitative", "scale": {"domain": [-3, 90], "nice": false, "zero": false},
         "axis": {"title": "c", "titleAngle": 0, "titleX": -40.5, "titleY": 20, "titleFont": "Open Sans", "titleFontSize": 18, "titleFontWeight": "normal", "titleAlign": "center", "titleBaseline": "alphabetic", "labels": false, "ticks": false, "domain": false, "grid": false, "minExtent": 63.5, "maxExtent": 63.5}},
   "y2": {"field": "y2"}
  }},
 {"width": 263, "height": 566,
  "resolve": {"scale": {"x": "independent", "y": "independent"}},
  "layer": [
  {"data": {"name": "c"},
   "transform": [{"fold": ["Retina","AdultCiliaryBody","FetalCiliaryBody","AdultCornea","AdultTrabecularM","FetalCornea","FetalTrabecularM"], "as": ["t", "v"]}],
   "mark": {"type": "rect", "strokeWidth": 0.5},
   "encoding": {
    "x": {"field": "t", "type": "nominal", "sort": ["Retina","AdultCiliaryBody","FetalCiliaryBody","AdultCornea","AdultTrabecularM","FetalCornea","FetalTrabecularM"], "scale": {"paddingInner": 0, "paddingOuter": 0},
          "axis": {"title": null, "labelAngle": 90, "labelAlign": "left", "labelBaseline": "middle", "labelPadding": 9, "labelFontSize": 9, "ticks": false, "domain": false}},
    "y": {"field": "g", "type": "nominal", "sort": null, "scale": {"paddingInner": 0, "paddingOuter": 0},
          "axis": {"title": null, "labelFontSize": 10.5, "labelPadding": 4, "ticks": false, "domain": false, "minExtent": 63.5, "maxExtent": 63.5}},
    "color": {"field": "v", "type": "quantitative", "scale": {"domain": [-1, 0, 1], "range": ["#c0c0ff", "#ffffff", "#ff0000"], "interpolate": "rgb"}, "legend": null},
    "stroke": {"field": "v", "type": "quantitative", "scale": {"domain": [-1, 0, 1], "range": ["#c0c0ff", "#ffffff", "#ff0000"], "interpolate": "rgb"}, "legend": null}
   }},
  {"data": {"name": "rc"},
   "layer": [
    {"mark": {"type": "rule", "color": "#808080", "strokeWidth": 1},
     "encoding": {"x": {"field": "h1", "type": "quantitative", "scale": {"domain": [0, 26], "range": [264, 290], "nice": false, "zero": false}, "axis": null}, "x2": {"field": "H"},
                  "y": {"field": "p1", "type": "quantitative", "scale": {"domain": [0, 47], "reverse": true, "nice": false, "zero": false}, "axis": null}, "y2": {"field": "p1"}}},
    {"mark": {"type": "rule", "color": "#808080", "strokeWidth": 1},
     "encoding": {"x": {"field": "h2", "type": "quantitative", "scale": {"domain": [0, 26], "range": [264, 290], "nice": false, "zero": false}, "axis": null}, "x2": {"field": "H"},
                  "y": {"field": "p2", "type": "quantitative", "scale": {"domain": [0, 47], "reverse": true, "nice": false, "zero": false}, "axis": null}, "y2": {"field": "p2"}}},
    {"mark": {"type": "rule", "color": "#808080", "strokeWidth": 1},
     "encoding": {"x": {"field": "H", "type": "quantitative", "scale": {"domain": [0, 26], "range": [264, 290], "nice": false, "zero": false}, "axis": null}, "x2": {"field": "H"},
                  "y": {"field": "p1", "type": "quantitative", "scale": {"domain": [0, 47], "reverse": true, "nice": false, "zero": false}, "axis": null}, "y2": {"field": "p2"}}}
   ]}
  ]}
]}
]
}
